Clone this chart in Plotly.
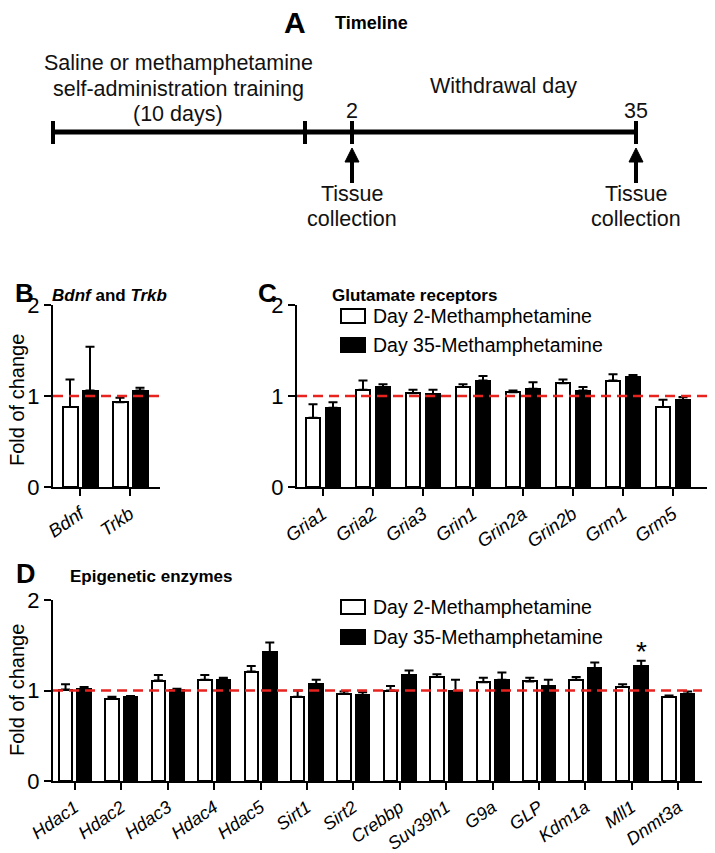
import plotly.graph_objects as go

W, H = 715, 853
FONT = "Liberation Sans, Arial, sans-serif"
RED = "#e8231f"

# ---------------- data ----------------
b_cats = ["Bdnf", "Trkb"]
b_day2 = [0.88, 0.93]
b_day2_err = [0.30, 0.05]
b_day35 = [1.06, 1.06]
b_day35_err = [0.48, 0.03]

c_cats = ["Gria1", "Gria2", "Gria3", "Grin1", "Grin2a", "Grin2b", "Grm1", "Grm5"]
c_day2 = [0.76, 1.07, 1.03, 1.10, 1.04, 1.14, 1.17, 0.88]
c_day2_err = [0.15, 0.10, 0.04, 0.03, 0.02, 0.04, 0.07, 0.08]
c_day35 = [0.87, 1.10, 1.02, 1.17, 1.08, 1.06, 1.21, 0.96]
c_day35_err = [0.06, 0.03, 0.05, 0.05, 0.07, 0.04, 0.02, 0.03]

d_cats = ["Hdac1", "Hdac2", "Hdac3", "Hdac4", "Hdac5", "Sirt1", "Sirt2", "Crebbp",
          "Suv39h1", "G9a", "GLP", "Kdm1a", "Mll1", "Dnmt3a"]
d_day2 = [1.01, 0.91, 1.11, 1.12, 1.21, 0.93, 0.96, 1.00, 1.15, 1.09, 1.10, 1.12, 1.04, 0.93]
d_day2_err = [0.06, 0.02, 0.06, 0.05, 0.06, 0.07, 0.03, 0.05, 0.03, 0.05, 0.04, 0.03, 0.03, 0.015]
d_day35 = [1.02, 0.93, 1.01, 1.12, 1.42, 1.07, 0.95, 1.17, 0.99, 1.12, 1.05, 1.25, 1.27, 0.96]
d_day35_err = [0.02, 0.01, 0.01, 0.02, 0.11, 0.05, 0.03, 0.05, 0.13, 0.08, 0.07, 0.06, 0.06, 0.03]
d_significant = ["Mll1"]

series_names = ["Day 2-Methamphetamine", "Day 35-Methamphetamine"]
y_ticks = [0, 1, 2]


def px(x):
    return x / W


def py(y):
    return 1 - y / H


def text(x, y, t, size, anchor="center", color="black", angle=0):
    fig.add_annotation(x=px(x), y=py(y), xref="paper", yref="paper", text=t,
                       showarrow=False, xanchor=anchor, yanchor="middle", textangle=angle,
                       font=dict(family=FONT, size=size, color=color))


fig = go.Figure()

panels = [
    ("", b_cats, b_day2, b_day2_err, b_day35, b_day35_err, (53, 160), (487, 305), (-0.54, 1.6), 0.30, 0.20, 18.5),
    ("2", c_cats, c_day2, c_day2_err, c_day35, c_day35_err, (297, 707), (487, 305), (-0.52, 7.68), 0.29, 0.20, 18.5),
    ("3", d_cats, d_day2, d_day2_err, d_day35, d_day35_err, (53, 702), (781, 600), (-0.47, 13.51), 0.29, 0.20, 18),
]

for suf, cats, d2, d2e, d35, d35e, xd, yd, xr, bw, off, tfs in panels:
    xa = "x" + suf
    ya = "y" + suf
    fig.add_trace(go.Bar(
        x=cats, y=d2, xaxis=xa, yaxis=ya, width=bw, offset=-off - bw / 2,
        marker=dict(color="white", line=dict(color="black", width=2)),
        error_y=dict(type="data", array=d2e, arrayminus=[0] * len(d2e), symmetric=False,
                     color="black", thickness=2, width=4.5),
        name=series_names[0], showlegend=False,
    ))
    fig.add_trace(go.Bar(
        x=cats, y=d35, xaxis=xa, yaxis=ya, width=bw, offset=off - bw / 2,
        marker=dict(color="black", line=dict(color="black", width=2)),
        error_y=dict(type="data", array=d35e, arrayminus=[0] * len(d35e), symmetric=False,
                     color="black", thickness=2, width=4.5),
        name=series_names[1], showlegend=False,
    ))
    xkey = "xaxis" + suf
    ykey = "yaxis" + suf
    fig.update_layout(**{
        xkey: dict(domain=[px(xd[0]), px(xd[1])], anchor=ya, type="category",
                   categoryorder="array", categoryarray=cats, range=list(xr),
                   showline=True, linecolor="black", linewidth=2, ticks="outside",
                   ticklen=7, tickwidth=2, tickcolor="black", tickangle=-35,
                   tickfont=dict(family=FONT, size=tfs, color="black", style="italic"),
                   showgrid=False, zeroline=False, fixedrange=True, automargin=False),
        ykey: dict(domain=[py(yd[0]), py(yd[1])], anchor=xa, range=[0, 2],
                   tickvals=y_ticks, showline=True, linecolor="black", linewidth=2,
                   ticks="outside", ticklen=7, tickwidth=2, tickcolor="black",
                   tickfont=dict(family=FONT, size=22, color="black"),
                   showgrid=False, zeroline=False, fixedrange=True, automargin=False),
    })
    fig.add_shape(type="line", xref=xa + " domain", yref=ya, x0=0, x1=1, y0=1, y1=1,
                  line=dict(color=RED, width=2.5, dash="10px,6px"), layer="above")

# significance marker
for cat in d_significant:
    i = d_cats.index(cat)
    fig.add_annotation(x=i + 0.2, y=d_day35[i] + d_day35_err[i], xref="x3", yref="y3",
                       text="*", showarrow=False, yanchor="bottom", yshift=-8,
                       font=dict(family=FONT, size=28, color="black"))

# y-axis titles
for ycen in (400, 690):
    text(17, ycen, "Fold of change", 20, angle=-90)

# legends (manual)
for (ytop1, ytop2) in [(309, 338), (600, 630)]:
    for k, yt in enumerate((ytop1, ytop2)):
        fig.add_shape(type="rect", xref="paper", yref="paper", x0=px(341), x1=px(365),
                      y0=py(yt + 14), y1=py(yt),
                      fillcolor="white" if k == 0 else "black",
                      line=dict(color="black", width=2))
        text(371, yt + 7, series_names[k], 19.5, anchor="left")

# panel titles
titles = [
    (282, 22, "<b>A</b>", 30), (333, 23, "<b>Timeline</b>", 18),
    (13, 293, "<b>B</b>", 26), (50, 295, "<b><i>Bdnf</i> and <i>Trkb</i></b>", 17),
    (256, 293, "<b>C</b>", 26), (330, 295, "<b>Glutamate receptors</b>", 17),
    (14, 574, "<b>D</b>", 27), (68, 576, "<b>Epigenetic enzymes</b>", 17),
]
for x, y, t, s in titles:
    text(x, y, t, s, anchor="left")

# ---------------- timeline (schematic) ----------------
tl_y = 132
tl_ticks = [53, 305, 352, 636]
fig.add_shape(type="line", xref="paper", yref="paper", x0=px(tl_ticks[0]), x1=px(tl_ticks[-1]),
              y0=py(tl_y), y1=py(tl_y), line=dict(color="black", width=5))
for t in tl_ticks:
    fig.add_shape(type="line", xref="paper", yref="paper", x0=px(t), x1=px(t),
                  y0=py(121), y1=py(144), line=dict(color="black", width=4))
for t in (352, 636):
    fig.add_shape(type="line", xref="paper", yref="paper", x0=px(t), x1=px(t),
                  y0=py(183), y1=py(160), line=dict(color="black", width=4))
    fig.add_shape(type="path", xref="paper", yref="paper",
                  path=f"M {px(t-7)} {py(162)} L {px(t+7)} {py(162)} L {px(t)} {py(148)} Z",
                  fillcolor="black", line=dict(color="black", width=1))
tl_texts = [
    (178, 63, "Saline or methamphetamine"),
    (178, 89, "self-administration training"),
    (178, 114, "(10 days)"),
    (503, 86, "Withdrawal day"),
    (352, 111, "2"), (636, 111, "35"),
    (352, 194, "Tissue"), (352, 219, "collection"),
    (636, 194, "Tissue"), (636, 219, "collection"),
]
for x, y, t in tl_texts:
    text(x, y, t, 21.5, color="#111")

fig.update_layout(
    width=W, height=H, margin=dict(l=0, r=0, t=0, b=0, autoexpand=False),
    paper_bgcolor="white", plot_bgcolor="white",
    barmode="overlay", showlegend=False, bargap=0,
)

fig.write_html("out.html", config={"displayModeBar": False},
               post_script="document.body.style.margin='0';document.body.style.overflow='hidden';")
